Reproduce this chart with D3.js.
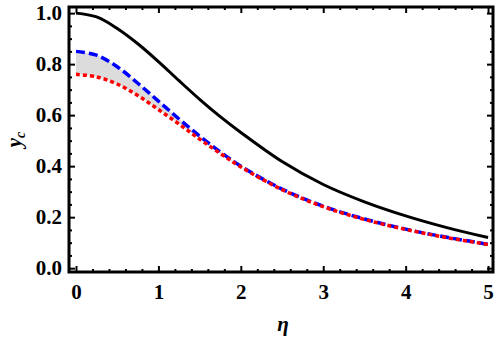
<!DOCTYPE html>
<html>
<head>
<meta charset="utf-8">
<script src="https://cdn.jsdelivr.net/npm/d3@7"></script>
<style>
  body { margin: 0; background: #fff; }
  .axis path.domain { display: none; }
  .axis line { stroke: #000; stroke-width: 2; }
</style>
</head>
<body>
<script>
// data
var eta = [0, 0.25, 0.5, 0.75, 1, 1.25, 1.5, 1.75, 2, 2.5, 3, 3.5, 4, 4.5, 5];
var ySolid = [1.0, 0.985, 0.94, 0.88, 0.81, 0.735, 0.662, 0.594, 0.532, 0.418, 0.328, 0.26, 0.205, 0.159, 0.12];
var yDashed = [0.85, 0.835, 0.79, 0.725, 0.655, 0.585, 0.518, 0.456, 0.40, 0.31, 0.243, 0.193, 0.153, 0.121, 0.094];
var yDotted = [0.76, 0.75, 0.722, 0.677, 0.622, 0.565, 0.506, 0.45, 0.397, 0.308, 0.241, 0.191, 0.152, 0.12, 0.093];

var xMajor = [0, 1, 2, 3, 4, 5];
var yMajor = [0, 0.2, 0.4, 0.6, 0.8, 1.0];

function drawChart() {
  var w = 498;
  var h = 338;
  var pLeft = 69, pRight = 493, pTop = 7, pBottom = 272;
  var serif = "'Liberation Serif', 'Times New Roman', serif";

  var xScale = d3.scaleLinear().domain([-0.085, 5.06]).range([pLeft, pRight]);
  var yScale = d3.scaleLinear().domain([-0.015, 1.024]).range([pBottom, pTop]);

  var dataset = eta.map(function(d, i) {
    return { eta: d, solid: ySolid[i], dashed: yDashed[i], dotted: yDotted[i] };
  });

  var svg = d3.select("body").append("svg")
    .attr("width", w)
    .attr("height", h);

  svg.append("defs").append("clipPath").attr("id", "clip")
    .append("rect")
    .attr("x", pLeft).attr("y", pTop)
    .attr("width", pRight - pLeft).attr("height", pBottom - pTop);

  var plot = svg.append("g").attr("clip-path", "url(#clip)");

  var curve = d3.curveCatmullRom.alpha(0.5);

  // shaded band between dashed and dotted
  var band = d3.area()
    .x(function(d) { return xScale(d.eta); })
    .y0(function(d) { return yScale(d.dotted); })
    .y1(function(d) { return yScale(d.dashed); })
    .curve(curve);

  plot.append("path")
    .datum(dataset)
    .attr("d", band)
    .attr("fill", "#dcdcdc");

  function line(key) {
    return d3.line()
      .x(function(d) { return xScale(d.eta); })
      .y(function(d) { return yScale(d[key]); })
      .curve(curve);
  }

  plot.append("path")
    .datum(dataset)
    .attr("d", line("solid"))
    .attr("fill", "none")
    .attr("stroke", "#000")
    .attr("stroke-width", 3);

  plot.append("path")
    .datum(dataset)
    .attr("d", line("dashed"))
    .attr("fill", "none")
    .attr("stroke", "#0000ff")
    .attr("stroke-width", 3.5)
    .attr("stroke-dasharray", "9,4");

  plot.append("path")
    .datum(dataset)
    .attr("d", line("dotted"))
    .attr("fill", "none")
    .attr("stroke", "#ff0000")
    .attr("stroke-width", 3.5)
    .attr("stroke-dasharray", "4,3");

  // minor tick values
  var xMinor = d3.range(0, 5.01, 0.2).filter(function(v) { return Math.abs(v - Math.round(v)) > 1e-6; });
  var yMinor = d3.range(0, 1.01, 0.05).filter(function(v) { return Math.abs(v * 5 - Math.round(v * 5)) > 1e-6; });

  function addAxis(axis, transform) {
    var g = svg.append("g")
      .attr("class", "axis")
      .attr("transform", transform)
      .call(axis);
    g.selectAll("text")
      .attr("font-family", null)
      .style("font-family", serif)
      .style("font-weight", "bold")
      .style("font-size", "21px")
      .style("fill", "#000");
    return g;
  }

  // bottom
  addAxis(d3.axisBottom(xScale).tickValues(xMajor).tickSizeInner(-6).tickSizeOuter(0).tickPadding(12)
    .tickFormat(d3.format("d")), "translate(0," + pBottom + ")");
  addAxis(d3.axisBottom(xScale).tickValues(xMinor).tickSizeInner(-3).tickSizeOuter(0).tickFormat(""), "translate(0," + pBottom + ")");
  // top
  addAxis(d3.axisTop(xScale).tickValues(xMajor).tickSizeInner(-6).tickSizeOuter(0).tickFormat(""), "translate(0," + pTop + ")");
  addAxis(d3.axisTop(xScale).tickValues(xMinor).tickSizeInner(-3).tickSizeOuter(0).tickFormat(""), "translate(0," + pTop + ")");
  // left
  addAxis(d3.axisLeft(yScale).tickValues(yMajor).tickSizeInner(-6).tickSizeOuter(0).tickPadding(7)
    .tickFormat(d3.format(".1f")), "translate(" + pLeft + ",0)");
  addAxis(d3.axisLeft(yScale).tickValues(yMinor).tickSizeInner(-3).tickSizeOuter(0).tickFormat(""), "translate(" + pLeft + ",0)");
  // right
  addAxis(d3.axisRight(yScale).tickValues(yMajor).tickSizeInner(-6).tickSizeOuter(0).tickFormat(""), "translate(" + pRight + ",0)");
  addAxis(d3.axisRight(yScale).tickValues(yMinor).tickSizeInner(-3).tickSizeOuter(0).tickFormat(""), "translate(" + pRight + ",0)");

  // frame
  svg.append("rect")
    .attr("x", pLeft).attr("y", pTop)
    .attr("width", pRight - pLeft).attr("height", pBottom - pTop)
    .attr("fill", "none")
    .attr("stroke", "#000")
    .attr("stroke-width", 3);

  // axis titles
  svg.append("text")
    .attr("x", (pLeft + pRight) / 2 + 2)
    .attr("y", 331)
    .attr("text-anchor", "middle")
    .style("font-family", serif)
    .style("font-style", "italic")
    .style("font-weight", "bold")
    .style("font-size", "21px")
    .text("η");

  var ylab = svg.append("text")
    .attr("transform", "translate(21," + (pTop + pBottom) / 2 + ") rotate(-90)")
    .attr("text-anchor", "middle")
    .style("font-family", serif)
    .style("font-style", "italic")
    .style("font-weight", "bold")
    .style("font-size", "21px");
  ylab.append("tspan").text("y");
  ylab.append("tspan").attr("dy", 4).style("font-size", "14px").text("c");
}

drawChart();
</script>
</body>
</html>
